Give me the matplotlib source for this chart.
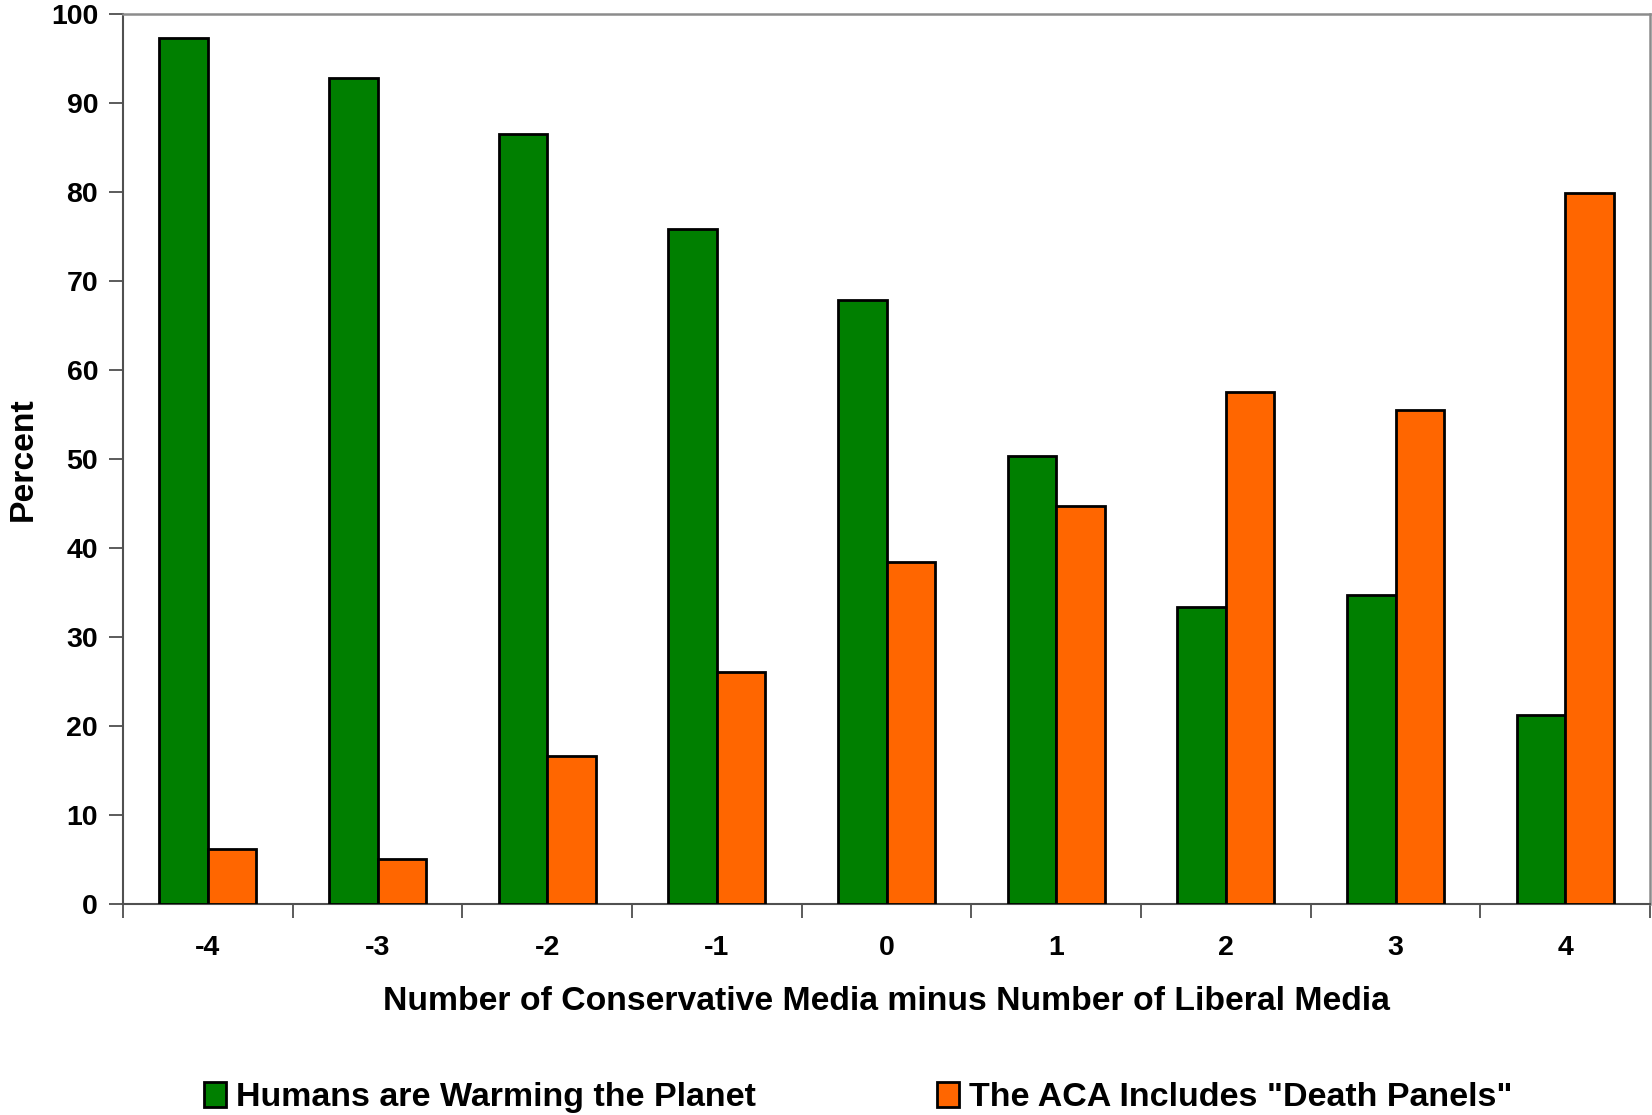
import matplotlib
matplotlib.use("Agg")
import matplotlib.pyplot as plt
import numpy as np
from matplotlib.patches import Patch

categories = ["-4", "-3", "-2", "-1", "0", "1", "2", "3", "4"]
warming = [97.4, 92.9, 86.6, 75.9, 67.9, 50.4, 33.4, 34.7, 21.2]
death_panels = [6.2, 5.1, 16.6, 26.1, 38.5, 44.8, 57.6, 55.5, 79.9]
series_names = ["Humans are Warming the Planet", 'The ACA Includes "Death Panels"']
yticks = [0, 10, 20, 30, 40, 50, 60, 70, 80, 90, 100]

plt.rcParams['font.family'] = ['Liberation Sans', 'DejaVu Sans']
plt.rcParams['font.weight'] = 'bold'

fig = plt.figure(figsize=(16.52, 11.15), dpi=100)
ax = fig.add_axes([0.0745, 0.1892, 0.9243, 0.7978])

x = np.arange(len(categories))
w = 0.286
ax.bar(x - w/2, warming, width=w, color='#007F00', edgecolor='black', linewidth=2, zorder=3)
ax.bar(x + w/2, death_panels, width=w, color='#FF6600', edgecolor='black', linewidth=2, zorder=3)

ax.set_xlim(-0.5, len(categories) - 0.5)
ax.set_ylim(0, 100)
ax.set_yticks(yticks)
ax.set_yticklabels([str(t) for t in yticks], fontsize=20.5, fontweight='bold')
ax.set_xticks(x)
ax.set_xticklabels(categories, fontsize=20.5, fontweight='bold')
ax.set_xticks(np.arange(-0.5, len(categories), 1.0), minor=True)
ax.tick_params(axis='x', which='major', length=0, pad=22)
ax.tick_params(axis='x', which='minor', length=10, width=1.2, color='#404040', direction='out')
ax.tick_params(axis='y', which='major', length=10, width=1.2, color='#404040', direction='out', pad=8)

for s in ['left', 'bottom']:
    ax.spines[s].set_color('#505050')
    ax.spines[s].set_linewidth(1.5)
for s in ['top', 'right']:
    ax.spines[s].set_color('#8c8c8c')
    ax.spines[s].set_linewidth(1.8)

ax.set_ylabel("Percent", fontsize=24.3, fontweight='bold', labelpad=9)
ax.set_xlabel("Number of Conservative Media minus Number of Liberal Media",
              fontsize=24.3, fontweight='bold', labelpad=18)

handles = [Patch(facecolor='#007F00', edgecolor='black', linewidth=2),
           Patch(facecolor='#FF6600', edgecolor='black', linewidth=2)]
fig.legend(handles, series_names, ncol=2, loc='center', bbox_to_anchor=(0.5195, 0.0155),
           frameon=False, handlelength=0.65, handleheight=0.75,
           handletextpad=0.3, columnspacing=5.33, prop={'weight': 'bold', 'size': 24.5})

fig.savefig("out.png", dpi=100)
